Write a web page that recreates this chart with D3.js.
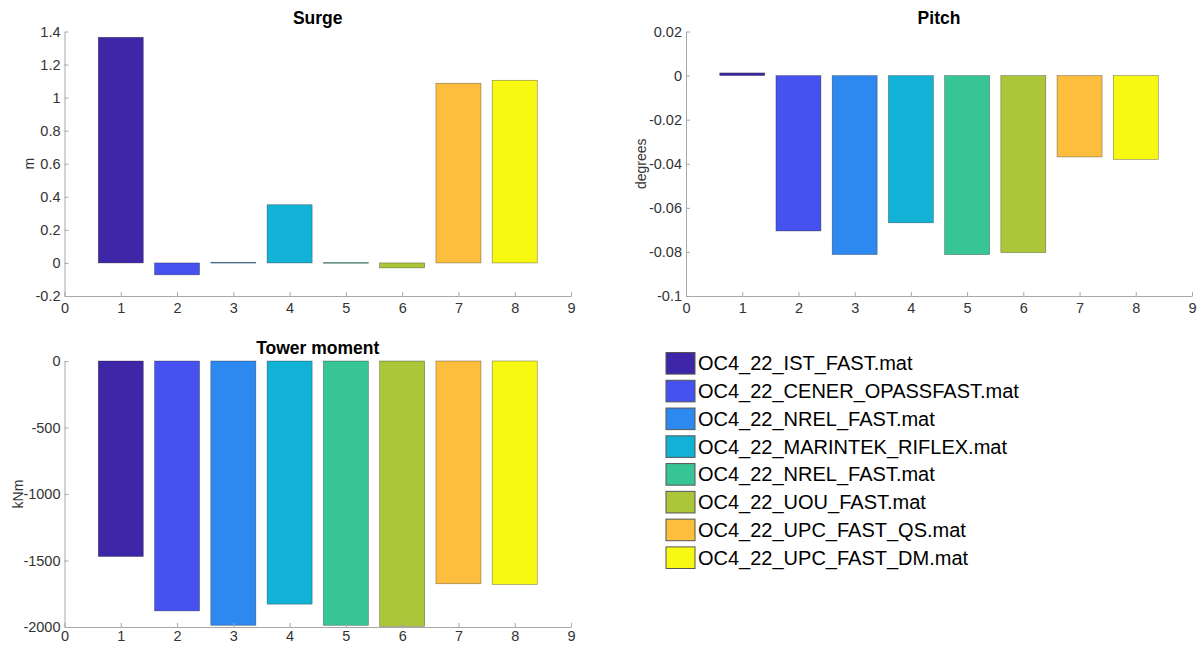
<!DOCTYPE html>
<html>
<head>
<meta charset="utf-8">
<script src="https://cdn.jsdelivr.net/npm/d3@7"></script>
<style>
  body { margin: 0; background: #fff; }
  svg { font-family: "Liberation Sans", Arial, sans-serif; }
  .tick text { fill: #333; font-size: 14.5px; }
  .domain { stroke: #a8a8a8; }
  .tick line { stroke: #a8a8a8; }
  .panel-title { font-weight: bold; font-size: 17.5px; fill: #000; }
  .y-label { font-size: 14px; fill: #333; }
  .legend-text { font-size: 20px; fill: #000; }
</style>
</head>
<body>
<svg id="chart" width="1204" height="646"></svg>
<script>
// Data ////////////////////////////////////////////////////////////////

var categories = [1, 2, 3, 4, 5, 6, 7, 8];
var legendNames = [
    "OC4_22_IST_FAST.mat",
    "OC4_22_CENER_OPASSFAST.mat",
    "OC4_22_NREL_FAST.mat",
    "OC4_22_MARINTEK_RIFLEX.mat",
    "OC4_22_NREL_FAST.mat",
    "OC4_22_UOU_FAST.mat",
    "OC4_22_UPC_FAST_QS.mat",
    "OC4_22_UPC_FAST_DM.mat"
];
var barColors = ["#3e26a8", "#4552f0", "#2d88ef", "#12b1d6", "#38c595", "#abc638", "#fdbe3d", "#f8f912"];

var surgeValues = [1.365, -0.072, 0.004, 0.352, 0.003, -0.03, 1.087, 1.105];
var pitchValues = [0.0012, -0.0705, -0.0812, -0.0668, -0.0812, -0.0803, -0.0369, -0.038];
var towerValues = [-1470, -1879, -1987, -1828, -1987, -1995, -1675, -1680];

var xTicks = [0, 1, 2, 3, 4, 5, 6, 7, 8, 9];
var surgeTicks = [-0.2, 0, 0.2, 0.4, 0.6, 0.8, 1, 1.2, 1.4];
var pitchTicks = [-0.1, -0.08, -0.06, -0.04, -0.02, 0, 0.02];
var towerTicks = [-2000, -1500, -1000, -500, 0];

// Panels //////////////////////////////////////////////////////////////

var svg = d3.select("#chart");

function drawPanel(p) {
    var width = p.right - p.left;
    var height = p.bottom - p.top;

    var scaleX = d3.scaleLinear().domain([0, 9]).range([0, width]);
    var scaleY = d3.scaleLinear().domain(p.domain).range([height, 0]);

    var g = svg.append("g")
        .attr("transform", "translate(" + p.left + "," + p.top + ")");

    // bars
    g.selectAll(".bar")
        .data(p.values)
        .enter()
        .append("rect")
            .attr("class", "bar")
            .attr("x", function(d, i) { return scaleX(categories[i] - 0.4) })
            .attr("width", scaleX(0.8) - scaleX(0))
            .attr("y", function(d) { return scaleY(Math.max(0, d)) })
            .attr("height", function(d) { return Math.max(0.8, Math.abs(scaleY(d) - scaleY(0))) })
            .attr("fill", function(d, i) { return barColors[i] })
            .attr("stroke", "#222")
            .attr("stroke-opacity", 0.55)
            .attr("stroke-width", 0.6);

    // x axis, ticks pointing inward
    g.append("g")
        .attr("class", "x-axis")
        .attr("transform", "translate(0," + height + ")")
        .call(d3.axisBottom(scaleX).tickValues(xTicks).tickSizeInner(-4).tickSizeOuter(0).tickPadding(p.xPad)
            .tickFormat(function(d) { return String(d) }));

    // y axis
    g.append("g")
        .attr("class", "y-axis")
        .call(d3.axisLeft(scaleY).tickValues(p.ticks).tickSizeInner(-4).tickSizeOuter(0).tickPadding(4)
            .tickFormat(function(d) { return String(+d.toFixed(3)) }));

    g.selectAll(".x-axis .domain").attr("stroke", "#cfcfcf");
    g.selectAll(".x-axis .tick line").attr("stroke", "#b5b5b5");

    // title
    g.append("text")
        .attr("class", "panel-title")
        .attr("x", width / 2)
        .attr("y", p.titleY - p.top)
        .attr("text-anchor", "middle")
        .text(p.title);

    // y label
    g.append("text")
        .attr("class", "y-label")
        .attr("transform", "translate(" + (p.labelX - p.left) + "," + (height / 2) + ") rotate(-90)")
        .attr("text-anchor", "middle")
        .text(p.label);
}

drawPanel({left: 64.5, right: 571, top: 31.5, bottom: 296, domain: [-0.2, 1.4], ticks: surgeTicks,
    values: surgeValues, title: "Surge", titleY: 24, label: "m", labelX: 34, xPad: 7});
drawPanel({left: 686, right: 1192, top: 31.5, bottom: 296, domain: [-0.1, 0.02], ticks: pitchTicks,
    values: pitchValues, title: "Pitch", titleY: 24, label: "degrees", labelX: 646, xPad: 7});
drawPanel({left: 64.5, right: 571, top: 361, bottom: 627, domain: [-2000, 0], ticks: towerTicks,
    values: towerValues, title: "Tower moment", titleY: 354, label: "kNm", labelX: 22.5, xPad: 4});

// Legend //////////////////////////////////////////////////////////////

var legend = svg.append("g")
    .attr("transform", "translate(666,363.3)");

var rows = legend.selectAll(".legend-row")
    .data(legendNames)
    .enter()
    .append("g")
        .attr("class", "legend-row")
        .attr("transform", function(d, i) { return "translate(0," + (i * 27.77) + ")" });

rows.append("rect")
    .attr("x", 0)
    .attr("y", -10.8)
    .attr("width", 29)
    .attr("height", 21.6)
    .attr("fill", function(d, i) { return barColors[i] })
    .attr("stroke", "#555")
    .attr("stroke-width", 1);

rows.append("text")
    .attr("class", "legend-text")
    .attr("x", 32)
    .attr("y", 7)
    .text(function(d) { return d });
</script>
</body>
</html>
